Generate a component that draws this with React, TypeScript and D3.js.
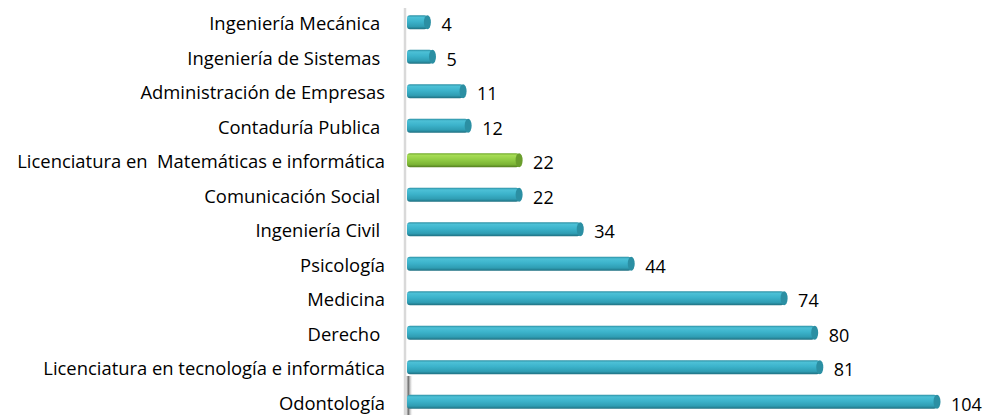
import React, { useEffect, useRef } from "react";
import * as d3 from "d3";

const categories = [
  "Ingeniería Mecánica ",
  "Ingeniería de Sistemas ",
  "Administración de Empresas",
  "Contaduría Publica ",
  "Licenciatura en  Matemáticas e informática",
  "Comunicación Social ",
  "Ingeniería Civil ",
  "Psicología",
  "Medicina",
  "Derecho ",
  "Licenciatura en tecnología e informática",
  "Odontología",
];
const values = [4, 5, 11, 12, 22, 22, 34, 44, 74, 80, 81, 104];
const highlighted = ["Licenciatura en  Matemáticas e informática"];

const App = () => {
  const chartRef = useRef<HTMLDivElement>(null);

  useEffect(() => {
    if (!chartRef.current) return;
    chartRef.current.innerHTML = "";
    const width = 986;
    const height = 415;
    const data = categories.map((c, i) => ({ name: c, value: values[i] }));

    const x = d3.scaleLinear().domain([0, 104]).range([407, 937]);
    const y = d3
      .scaleBand()
      .domain(categories)
      .range([5, 419])
      .paddingInner(0.6)
      .paddingOuter(0.3);

    const svg = d3
      .create("svg")
      .attr("width", width)
      .attr("height", height)
      .attr("style", "display:block; font-family: 'Open Sans', sans-serif;");

    const defs = svg.append("defs");
    const mkGrad = (id: string, stops: [number, string][]) => {
      const g = defs
        .append("linearGradient")
        .attr("id", id)
        .attr("x1", 0)
        .attr("y1", 0)
        .attr("x2", 0)
        .attr("y2", 1);
      stops.forEach(([o, c]) =>
        g.append("stop").attr("offset", o).attr("stop-color", c)
      );
    };
    mkGrad("blue", [
      [0, "#2c8fa3"],
      [0.15, "#4cc0d6"],
      [0.45, "#3cb3cb"],
      [0.8, "#2f9db3"],
      [1, "#1f6f80"],
    ]);
    mkGrad("green", [
      [0, "#6fa82a"],
      [0.15, "#a6dc55"],
      [0.45, "#92cd45"],
      [0.8, "#7bb435"],
      [1, "#527d1e"],
    ]);
    const shade = defs
      .append("linearGradient")
      .attr("id", "shade")
      .attr("x1", 0)
      .attr("y1", 0)
      .attr("x2", 1)
      .attr("y2", 0);
    shade.append("stop").attr("offset", 0).attr("stop-color", "#ffffff").attr("stop-opacity", 0);
    shade.append("stop").attr("offset", 0.4).attr("stop-color", "#333333");
    shade.append("stop").attr("offset", 1).attr("stop-color", "#ffffff").attr("stop-opacity", 0);

    // axis line
    svg
      .append("line")
      .attr("x1", 405)
      .attr("x2", 405)
      .attr("y1", 8)
      .attr("y2", height)
      .attr("stroke", "#d9d9d9")
      .attr("stroke-width", 2.5);

    // floor shadow near the bottom of the axis
    svg
      .append("rect")
      .attr("x", 405)
      .attr("y", 376)
      .attr("width", 8)
      .attr("height", 39)
      .attr("fill", "url(#shade)")
      .attr("opacity", 0.75);

    const bh = 14;
    const bars = svg.append("g").selectAll("g").data(data).join("g");

    bars
      .append("rect")
      .attr("x", x(0))
      .attr("y", (d) => y(d.name)! + y.bandwidth() / 2 - bh / 2)
      .attr("width", (d) => x(d.value) - x(0))
      .attr("height", bh)
      .attr("rx", 3)
      .attr("fill", (d) =>
        highlighted.includes(d.name) ? "url(#green)" : "url(#blue)"
      );

    bars
      .append("ellipse")
      .attr("cx", (d) => x(d.value))
      .attr("cy", (d) => y(d.name)! + y.bandwidth() / 2)
      .attr("rx", 3.5)
      .attr("ry", bh / 2)
      .attr("fill", (d) =>
        highlighted.includes(d.name) ? "#6a9e2c" : "#2b8fa3"
      );

    // value labels
    svg
      .append("g")
      .selectAll("text")
      .data(data)
      .join("text")
      .attr("x", (d) => x(d.value) + 14)
      .attr("y", (d) => y(d.name)! + y.bandwidth() / 2 + 2.5)
      .attr("dy", "0.35em")
      .attr("font-size", "18px")
      .attr("fill", "#000")
      .text((d) => d.value);

    // category labels
    svg
      .append("g")
      .selectAll("text")
      .data(data)
      .join("text")
      .attr("x", 385)
      .attr("y", (d) => y(d.name)! + y.bandwidth() / 2 + 1.5)
      .attr("dy", "0.35em")
      .attr("text-anchor", "end")
      .attr("font-size", "18.4px")
      .attr("fill", "#000")
      .style("white-space", "pre")
      .text((d) => d.name);

    chartRef.current.appendChild(svg.node()!);
  }, []);

  return (
    <div
      ref={chartRef}
      style={{ position: "absolute", left: 0, top: 0 }}
    ></div>
  );
};

export default App;
